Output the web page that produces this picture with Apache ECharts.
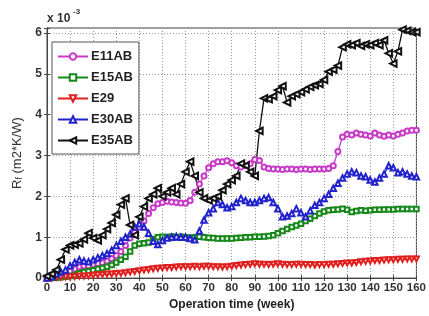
<!DOCTYPE html>
<html>
<head>
<meta charset="utf-8">
<script src="https://cdn.jsdelivr.net/npm/echarts@6/dist/echarts.min.js"></script>
<style>html,body{margin:0;padding:0;background:#fff}#c{width:429px;height:316px}</style>
</head>
<body>
<div id="c"></div>
<script>
// weeks (x), sampled every 2 weeks
const weeks = [
  0,2,4,6,8,10,12,14,16,18,
  20,22,24,26,28,30,32,34,36,38,
  40,42,44,46,48,50,52,54,56,58,
  60,62,64,66,68,70,72,74,76,78,
  80,82,84,86,88,90,92,94,96,98,
  100,102,104,106,108,110,112,114,116,118,
  120,122,124,126,128,130,132,134,136,138,
  140,142,144,146,148,150,152,154,156,158,
  160];
// values in units of 1e-3 m2*K/W
const E11AB = [
  0,0.02,0.04,0.08,0.12,0.17,0.22,0.28,0.3,0.3,
  0.33,0.36,0.38,0.42,0.48,0.55,0.65,0.8,0.98,1.12,
  1.25,1.4,1.58,1.72,1.82,1.85,1.88,1.86,1.85,1.84,
  1.83,1.9,2.1,2.3,2.5,2.7,2.8,2.85,2.85,2.87,
  2.82,2.75,2.72,2.75,2.8,2.9,2.88,2.72,2.68,2.67,
  2.67,2.66,2.67,2.67,2.66,2.67,2.67,2.66,2.67,2.67,
  2.67,2.68,2.75,3.1,3.45,3.52,3.5,3.55,3.52,3.5,
  3.48,3.55,3.5,3.47,3.5,3.48,3.52,3.55,3.6,3.62,
  3.62];
const E15AB = [
  0,0,0.01,0.02,0.03,0.05,0.08,0.12,0.15,0.17,
  0.19,0.22,0.25,0.28,0.32,0.38,0.45,0.52,0.65,0.8,
  0.84,0.85,0.87,0.95,1.0,1.01,1.0,1.02,1.0,1.01,
  1.0,0.99,1.0,1.01,1.0,0.99,0.98,0.97,0.97,0.97,
  0.97,0.98,0.99,1.0,1.0,1.01,1.01,1.02,1.03,1.05,
  1.1,1.15,1.2,1.25,1.29,1.33,1.4,1.45,1.52,1.58,
  1.63,1.66,1.67,1.68,1.7,1.67,1.62,1.64,1.66,1.65,
  1.66,1.67,1.67,1.68,1.68,1.68,1.69,1.69,1.69,1.69,
  1.69];
const E29 = [
  0,0.01,0.02,0.02,0.03,0.03,0.04,0.05,0.05,0.06,
  0.07,0.08,0.09,0.1,0.1,0.11,0.12,0.13,0.15,0.16,
  0.18,0.2,0.21,0.23,0.24,0.25,0.26,0.26,0.27,0.28,
  0.28,0.28,0.29,0.28,0.29,0.29,0.28,0.28,0.27,0.28,
  0.29,0.31,0.32,0.33,0.34,0.35,0.34,0.34,0.33,0.34,
  0.35,0.34,0.33,0.33,0.34,0.34,0.33,0.33,0.32,0.33,
  0.33,0.34,0.34,0.35,0.36,0.37,0.37,0.38,0.4,0.41,
  0.42,0.43,0.43,0.44,0.45,0.45,0.46,0.46,0.47,0.47,
  0.47];
const E30AB = [
  0,0.03,0.1,0.15,0.2,0.3,0.38,0.45,0.42,0.4,
  0.45,0.5,0.55,0.6,0.68,0.8,0.9,1.0,1.08,1.25,
  1.33,1.25,1.1,0.9,0.82,0.92,0.98,1.0,1.02,1.0,
  1.0,0.97,0.94,1.15,1.42,1.6,1.7,1.85,1.8,1.72,
  1.75,1.85,1.95,1.9,1.85,1.85,1.9,1.95,1.97,1.85,
  1.7,1.5,1.52,1.58,1.7,1.6,1.5,1.65,1.78,1.85,
  1.95,2.05,2.2,2.32,2.45,2.55,2.6,2.58,2.5,2.48,
  2.4,2.35,2.45,2.55,2.75,2.7,2.58,2.6,2.55,2.5,
  2.48];
const E35AB = [
  0.05,0.1,0.2,0.45,0.7,0.8,0.82,0.85,0.95,1.1,
  0.98,0.92,1.05,1.2,1.35,1.55,1.8,1.95,1.3,1.05,
  1.5,1.75,1.95,2.05,2.2,2.0,2.1,2.2,2.05,2.3,
  2.6,2.85,2.5,2.1,1.95,1.9,1.95,2.0,2.15,2.3,
  2.4,2.5,2.8,2.75,2.6,2.5,3.6,4.4,4.38,4.45,
  4.6,4.7,4.3,4.45,4.5,4.55,4.62,4.68,4.72,4.75,
  4.85,5.05,5.1,5.2,5.65,5.72,5.7,5.75,5.68,5.72,
  5.7,5.75,5.7,5.82,5.5,5.25,5.55,6.08,6.05,6.02,
  6.02];
const seriesNames = ['E11AB','E15AB','E29','E30AB','E35AB'];
const seriesValues = [E11AB, E15AB, E29, E30AB, E35AB];
const colors = ['#c83ac8','#17881a','#e0201f','#2222cc','#111111'];
const symbols = ['emptyCircle','emptyRect','emptyTriangle','emptyTriangle','emptyTriangle'];
const rotations = [0,0,180,0,90];
const symbolSizes = [5,4.5,5,5.5,6.5];
const xTicks = {min:0, max:160, interval:10};
const yTicks = {min:0, max:6.12, interval:1};

const chart = echarts.init(document.getElementById('c'), null, {renderer:'canvas'});
const font = '"Liberation Sans", Arial, sans-serif';
const series = seriesNames.map((n,i)=>({
  name:n, type:'line',
  data: weeks.map((w,j)=>[w, seriesValues[i][j]]),
  symbol: symbols[i], symbolSize: symbolSizes[i], symbolRotate: rotations[i],
  lineStyle:{color:colors[i], width:1.3},
  itemStyle:{color:colors[i], borderColor:colors[i], borderWidth:1.2},
  emphasis:{disabled:true},
  xAxisIndex:0, yAxisIndex:0
}));
chart.setOption({
  animation:false,
  backgroundColor:'#fff',
  grid:{left:47, right:5, top:28, bottom:34, show:true, borderColor:'#444', borderWidth:1},
  xAxis:[{
    type:'value', min:xTicks.min, max:xTicks.max, interval:xTicks.interval,
    name:'Operation time (week)', nameLocation:'middle', nameGap:19,
    nameTextStyle:{fontFamily:font, fontWeight:'bold', fontSize:12, color:'#222'},
    axisLine:{show:true, lineStyle:{color:'#444'}},
    axisTick:{show:true, inside:true, length:3, lineStyle:{color:'#444'}},
    axisLabel:{fontFamily:font, fontWeight:'bold', fontSize:11.5, color:'#333', margin:4, showMaxLabel:true},
    splitLine:{show:true, lineStyle:{color:'#999', type:[1,2], width:1}}
  },{
    type:'value', position:'top', min:xTicks.min, max:xTicks.max, interval:xTicks.interval,
    axisLine:{show:true, lineStyle:{color:'#444'}},
    axisTick:{show:true, inside:true, length:3, lineStyle:{color:'#444'}},
    axisLabel:{show:false}, splitLine:{show:false}
  }],
  yAxis:[{
    type:'value', min:yTicks.min, max:yTicks.max, interval:yTicks.interval,
    name:'R{s|f} (m2*K/W)', nameLocation:'middle', nameGap:22, nameRotate:90,
    nameTextStyle:{fontFamily:font, fontSize:13, color:'#333',
      rich:{s:{fontFamily:font, fontSize:9, color:'#333', padding:[6,0,0,0]}}},
    axisLine:{show:true, lineStyle:{color:'#444'}},
    axisTick:{show:true, inside:true, length:3, lineStyle:{color:'#444'}},
    axisLabel:{fontFamily:font, fontWeight:'bold', fontSize:12, color:'#333', margin:5,
      formatter:v=> (Math.abs(v-Math.round(v))<1e-6 ? String(Math.round(v)) : '')},
    splitLine:{show:true, lineStyle:{color:'#999', type:[1,2], width:1}}
  },{
    type:'value', position:'right', min:yTicks.min, max:yTicks.max, interval:yTicks.interval,
    axisLine:{show:true, lineStyle:{color:'#444'}},
    axisTick:{show:true, inside:true, length:3, lineStyle:{color:'#444'}},
    axisLabel:{show:false}, splitLine:{show:false}
  }],
  legend:{
    orient:'vertical', left:52, top:42,
    data:seriesNames,
    itemWidth:30, itemHeight:8, itemGap:6,
    padding:[7,6,6,5],
    backgroundColor:'#fff', borderColor:'#555', borderWidth:1,
    textStyle:{fontFamily:font, fontWeight:'bold', fontSize:13, color:'#222', lineHeight:15, padding:[0,0,0,-2]}
  },
  graphic:[
    {type:'text', left:47, top:13, style:{text:'x 10', font:'bold 12px '+font, fill:'#333'}},
    {type:'text', left:73, top:8, style:{text:'-3', font:'bold 8px '+font, fill:'#333'}}
  ],
  series: series
});
</script>
</body>
</html>
